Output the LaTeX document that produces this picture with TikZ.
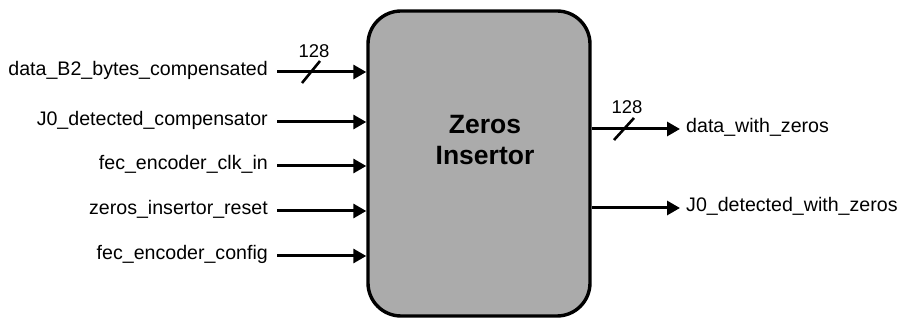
\documentclass[tikz,border=0pt]{standalone}
\usepackage{fontspec}
\setmainfont{Liberation Sans}
\usetikzlibrary{arrows.meta}
\definecolor{boxgray}{HTML}{ABABAB}
\tikzset{
  sig/.style={line width=3pt, -{Triangle[length=13pt,width=14pt]}},
  inlab/.style={anchor=base east, inner sep=0pt, font=\fontsize{19.6pt}{22pt}\selectfont},
  outlab/.style={anchor=base west, inner sep=0pt, font=\fontsize{19.6pt}{22pt}\selectfont},
  buslab/.style={inner sep=0pt, font=\fontsize{18.5pt}{20pt}\selectfont},
  busslash/.style={line width=2.6pt},
  block/.style={draw, line width=3.4pt, fill=boxgray, rounded corners=33pt, minimum width=222pt, minimum height=305pt, inner sep=0pt},
  title/.style={align=center, font=\fontsize{26.5pt}{31pt}\selectfont\bfseries, inner sep=0pt}
}
\begin{document}
\begin{tikzpicture}[x=1pt,y=-1pt]
\useasboundingbox (0,0) rectangle (903,320);
\node[block] (B) at (479,163.5) {};
\node[title, anchor=base] (T) at (485,165) {Zeros\\Insertor};

% inputs
\node[inlab] (i1) at (268,76) {data\_B2\_bytes\_compensated};
\node[inlab] (i2) at (268,126) {J0\_detected\_compensator};
\node[inlab] (i3) at (268,170) {fec\_encoder\_clk\_in};
\node[inlab] (i4) at (268,215) {zeros\_insertor\_reset};
\node[inlab] (i5) at (268,260) {fec\_encoder\_config};
\coordinate (s1) at (277,72);
\coordinate (s2) at (277,122);
\coordinate (s3) at (277,166);
\coordinate (s4) at (277,211);
\coordinate (s5) at (277,256);
\foreach \k in {1,...,5}{
  \draw[sig] (s\k) -- (B.west |- s\k);
}
% bus marker input
\coordinate (m1) at (311,72);
\draw[busslash] ([shift={(-9,11)}]m1) -- ([shift={(9,-11)}]m1);
\node[buslab] (b1) at (314,51) {128};

% outputs
\coordinate (o1) at (680,129);
\coordinate (o2) at (680,208);
\draw[sig] (B.east |- o1) -- (o1);
\draw[sig] (B.east |- o2) -- (o2);
\node[outlab] (r1) at (686,133) {data\_with\_zeros};
\node[outlab] (r2) at (686,212) {J0\_detected\_with\_zeros};
\coordinate (m2) at (624,129);
\draw[busslash] ([shift={(-10,11)}]m2) -- ([shift={(10,-11)}]m2);
\node[buslab] (b2) at (627,107) {128};
\end{tikzpicture}
\end{document}
